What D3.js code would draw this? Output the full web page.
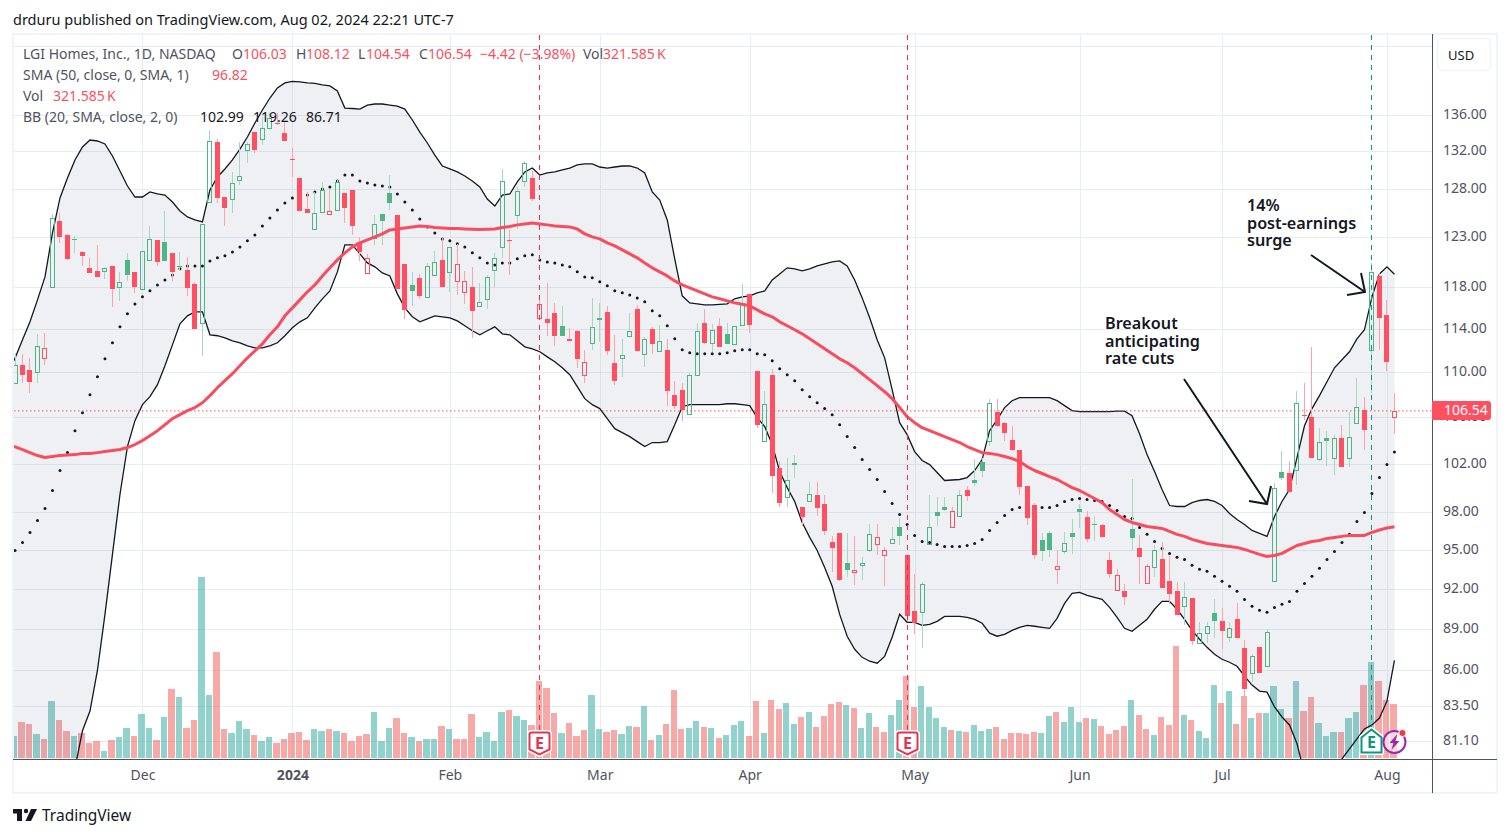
<!DOCTYPE html>
<html>
<head>
<meta charset="utf-8">
<title>LGI Homes, Inc., 1D, NASDAQ</title>
<script src="https://cdn.jsdelivr.net/npm/d3@7/dist/d3.min.js"></script>
<style>
  html, body { margin: 0; padding: 0; background: #fff; }
  svg { display: block; }
  text { font-family: "Noto Sans", sans-serif; }
</style>
</head>
<body>
<div id="chart"></div>
<script>
// daily bars, Nov 2023 - Aug 02 2024, prices
const opens = [
  109.05,110.67,110.22,110.04,111.31,118.03,124.64,123.20,122.75,121.49,119.90,119.60,119.60,120.09,118.03,120.69,119.50,117.84,120.69,122.70,
  122.50,121.39,120.09,119.70,118.32,114.58,126.60,133.03,127.12,126.91,128.92,132.15,134.13,133.36,134.58,135.14,134.02,131.20,129.13,125.87,
  123.81,125.57,125.36,125.77,127.54,127.86,122.50,119.40,122.90,125.36,127.54,125.25,120.29,118.22,118.91,117.06,119.20,120.69,119.50,118.61,
  117.55,118.03,116.19,116.87,119.70,121.99,122.65,125.25,128.81,129.13,115.05,114.95,115.53,114.30,113.07,113.83,109.77,112.70,115.00,115.62,
  110.86,111.31,113.36,115.91,111.68,114.01,111.96,112.05,107.97,108.42,106.30,109.77,114.58,112.70,114.30,113.54,112.61,114.39,117.35,110.13,
  103.96,109.77,101.67,99.27,102.05,98.37,98.94,99.43,98.69,95.57,96.29,94.00,93.24,93.78,94.94,95.41,94.55,95.49,96.76,94.55,
  90.29,90.21,95.41,97.97,98.45,96.76,97.72,99.84,100.67,102.17,103.96,106.47,105.51,104.04,103.19,100.09,98.61,95.73,96.29,93.47,
  94.86,96.29,98.21,97.64,97.05,96.92,94.16,91.86,91.79,96.60,95.10,92.39,93.62,94.24,92.55,91.79,90.66,91.26,87.94,88.67,
  90.14,89.54,88.37,89.69,87.57,85.79,87.64,86.28,92.62,101.33,101.25,101.50,106.20,106.03,102.42,104.21,102.51,104.21,102.51,105.51,
  106.65,112.05,119.10,115.33,106.03];
const highs = [
  111.77,111.68,111.31,113.54,113.64,125.36,125.46,123.25,123.10,121.59,120.89,122.19,120.00,120.09,119.50,121.39,119.50,121.59,124.12,122.70,
  125.67,121.39,121.49,120.99,118.52,124.33,134.35,133.36,127.12,129.78,133.03,133.03,134.13,135.81,136.25,136.25,135.25,132.37,129.13,127.65,
  127.65,128.71,127.86,128.92,127.54,127.86,123.00,121.29,125.25,125.36,129.45,125.25,120.29,119.50,119.30,120.39,121.59,122.90,121.99,122.30,
  119.60,120.00,118.42,119.20,121.39,130.10,123.71,128.18,130.96,129.88,117.06,118.42,116.48,116.19,114.11,113.92,112.05,116.96,116.48,116.19,
  113.45,113.07,115.53,116.29,113.26,114.20,114.39,113.07,109.23,109.05,109.95,114.58,115.91,114.49,115.05,114.58,114.30,118.32,117.35,110.13,
  108.33,110.31,102.26,102.51,102.76,98.37,100.50,100.50,99.43,96.05,96.29,96.29,96.05,94.40,97.00,97.00,95.25,96.76,97.48,94.55,
  93.08,92.47,99.43,99.26,99.26,98.45,99.84,100.09,102.42,102.51,107.62,107.62,105.59,105.24,103.19,100.09,98.77,96.29,96.45,94.94,
  96.37,97.40,98.69,98.05,97.72,97.00,94.79,93.47,92.32,100.75,96.13,93.85,95.33,95.57,94.47,92.47,92.47,91.26,89.47,89.47,
  91.18,90.51,89.47,90.88,88.15,87.13,87.64,88.96,100.34,103.11,102.26,108.33,109.05,112.33,105.07,104.81,104.47,105.33,106.47,109.50,
  107.80,120.39,119.40,116.77,108.12];
const lows = [
  109.05,109.05,108.15,109.05,110.67,118.03,122.40,120.69,121.39,120.09,119.40,119.00,118.81,116.10,116.67,118.61,117.45,117.84,120.69,120.09,
  120.59,118.61,119.70,117.16,114.01,111.50,126.60,126.50,124.12,125.46,128.39,130.75,131.83,132.70,134.58,134.92,133.14,129.24,125.67,125.43,
  123.81,125.57,125.36,125.77,124.43,123.20,120.59,119.40,122.19,122.19,125.77,117.84,114.95,116.19,116.87,117.06,119.20,118.03,117.55,117.25,
  116.38,113.17,116.19,115.91,118.03,120.89,119.20,123.81,128.18,126.71,115.05,113.36,112.42,113.36,112.89,110.40,109.05,112.05,112.80,111.60,
  108.87,109.59,113.36,111.87,110.49,111.68,111.96,106.99,106.74,105.68,106.30,109.77,112.61,111.87,112.33,112.61,112.61,114.39,113.64,105.07,
  103.96,99.59,98.45,98.45,100.83,96.84,98.94,97.72,96.13,93.24,92.55,92.85,92.24,92.62,94.79,94.55,92.17,95.49,95.33,89.54,
  88.60,87.57,95.41,96.84,98.05,96.76,97.72,98.86,100.17,100.91,103.53,105.16,103.96,103.11,99.43,96.92,94.24,94.09,94.40,92.32,
  94.63,94.63,96.68,95.57,95.65,95.97,92.78,91.86,90.74,94.86,92.32,92.39,92.85,92.02,90.81,89.99,89.25,87.79,87.94,87.94,
  88.30,87.50,88.01,88.30,84.18,85.16,85.79,86.28,92.62,100.67,99.67,100.25,105.77,102.51,102.26,101.83,101.08,101.75,101.75,105.51,
  103.19,108.15,112.05,110.13,104.54];
const closes = [
  110.67,109.77,109.14,112.42,112.23,124.94,123.00,120.79,122.60,121.09,119.40,119.00,119.90,117.84,118.52,119.20,118.03,121.59,122.80,120.49,
  120.59,119.50,120.00,117.94,114.01,124.33,133.14,127.02,125.98,128.60,129.35,132.81,132.15,134.58,135.70,135.03,133.14,131.10,125.67,125.43,
  125.48,127.86,125.67,128.71,125.98,124.12,121.49,120.89,124.33,124.64,126.50,117.84,115.81,117.64,117.16,120.09,120.49,118.03,121.99,120.29,
  118.61,115.72,116.58,119.00,120.89,128.81,122.55,127.75,130.75,126.91,116.38,114.58,113.36,113.36,112.89,111.22,110.95,114.20,115.05,111.96,
  109.23,111.59,113.83,111.96,113.07,112.61,112.89,108.33,106.99,106.65,109.77,113.83,112.70,113.92,112.33,112.61,114.30,116.48,114.39,105.33,
  107.17,101.00,98.77,100.67,101.92,97.56,99.51,98.37,96.52,95.10,92.62,93.47,93.43,93.93,96.21,95.97,94.94,95.81,96.05,89.91,
  89.40,92.32,96.76,97.64,98.21,98.05,99.43,99.35,100.42,101.42,107.27,105.24,104.64,103.19,100.09,97.48,94.63,94.86,94.94,93.70,
  95.49,95.97,97.97,95.89,97.00,95.97,93.08,93.04,91.33,95.89,94.40,93.70,94.94,92.02,91.56,89.99,91.33,88.08,88.67,89.18,
  89.54,88.81,89.03,88.30,84.67,86.99,85.79,88.74,100.00,100.83,99.67,107.27,106.12,102.51,103.87,103.91,104.21,101.75,104.30,106.91,
  104.90,119.50,115.05,110.95,106.54];
// thousands of shares
const volumes = [
  130,213,201,142,112,337,225,160,130,148,89,101,41,107,124,178,130,260,178,107,
  243,408,361,178,225,1071,373,627,172,148,219,172,136,101,124,89,112,148,154,107,
  172,160,172,160,148,101,130,142,272,101,178,237,148,124,101,112,112,189,172,112,
  112,260,124,154,101,274,286,251,227,197,458,416,268,150,209,132,168,375,174,156,
  168,144,191,185,310,109,138,203,404,174,180,221,185,180,120,138,197,221,132,339,
  150,345,292,328,203,245,274,185,251,322,333,316,298,180,268,185,156,256,345,487,
  304,428,304,239,185,168,162,156,197,162,174,185,114,150,150,144,156,150,251,274,
  215,304,215,239,233,191,144,168,191,345,256,174,138,245,197,665,256,227,162,120,
  434,328,399,203,369,239,268,268,428,292,239,458,280,363,209,132,156,156,239,274,
  434,570,458,345,321.585];
const sma50 = [
  103.45,103.19,102.93,102.68,102.51,102.60,102.68,102.72,102.76,102.85,102.85,102.93,103.02,103.11,103.19,103.36,103.62,103.96,104.38,104.81,
  105.33,105.86,106.21,106.56,106.83,107.26,107.89,108.60,109.23,109.86,110.58,111.31,111.96,112.61,113.45,114.20,115.24,116.00,116.77,117.55,
  118.22,119.10,119.90,120.69,121.39,121.99,122.40,122.70,123.00,123.31,123.71,123.81,123.92,124.02,124.12,124.07,123.97,123.92,123.87,123.85,
  123.81,123.78,123.76,123.78,123.81,123.97,124.07,124.23,124.33,124.43,124.33,124.23,124.12,124.07,124.02,123.81,123.31,123.00,122.80,122.40,
  122.09,121.69,121.29,120.89,120.39,119.90,119.50,119.10,118.61,118.22,117.94,117.64,117.35,117.06,116.87,116.67,116.48,116.34,116.19,115.81,
  115.43,115.15,114.67,114.30,113.92,113.54,113.07,112.61,112.14,111.68,111.22,110.86,110.40,109.86,109.32,108.78,108.24,107.62,106.83,106.03,
  105.51,105.07,104.81,104.55,104.30,104.04,103.79,103.45,103.19,102.93,102.85,102.76,102.60,102.42,102.17,101.75,101.42,101.17,100.91,100.67,
  100.34,100.00,99.76,99.43,99.10,98.77,98.21,97.81,97.40,97.16,97.00,96.84,96.76,96.68,96.45,96.21,96.05,95.81,95.65,95.49,
  95.41,95.33,95.25,95.18,95.02,94.83,94.63,94.47,94.55,94.71,95.02,95.33,95.49,95.65,95.73,95.89,95.97,96.05,96.13,96.13,
  96.13,96.37,96.56,96.72,96.82];
const bbBasis = [
  94.94,95.57,96.36,97.32,98.29,99.76,101.42,102.93,104.81,106.38,107.97,109.59,111.22,112.70,114.20,115.43,116.38,117.06,117.64,118.22,
  118.71,119.20,119.80,120.09,120.09,120.09,120.59,120.89,121.09,121.49,121.99,122.60,123.20,124.12,124.94,125.77,126.50,127.02,127.23,127.33,
  127.65,127.97,128.18,128.81,129.45,129.45,128.81,128.60,128.39,128.28,128.18,127.44,126.60,125.77,124.84,124.02,123.41,122.80,122.60,122.30,
  121.99,121.39,120.89,120.39,120.19,120.39,120.39,120.79,121.09,121.19,120.69,120.49,120.39,120.19,120.00,119.50,119.00,118.91,118.52,118.13,
  117.64,117.45,117.25,116.96,116.58,115.72,115.24,114.30,113.07,112.05,111.78,111.68,111.68,111.68,111.68,111.78,111.96,112.05,112.05,111.68,
  111.59,111.04,110.31,109.77,109.23,108.42,107.80,107.26,106.74,106.21,105.33,104.30,103.36,102.34,101.50,100.67,99.67,98.69,97.81,97.00,
  96.13,95.65,95.57,95.41,95.25,95.25,95.25,95.33,95.49,95.81,96.52,97.16,97.72,98.21,98.37,98.45,98.45,98.37,98.37,98.53,
  98.86,99.02,99.10,99.02,98.94,98.86,98.53,98.13,97.64,97.48,96.76,96.21,95.65,95.10,94.71,94.40,94.24,93.78,93.47,93.32,
  92.93,92.55,92.17,91.79,91.18,90.66,90.36,90.21,90.58,90.81,91.03,91.79,92.39,92.93,93.55,94.24,94.86,95.57,96.21,97.24,
  97.97,99.51,100.83,101.92,102.99];
const bbUpper = [
  111.04,112.98,114.67,116.77,119.00,123.41,127.02,129.13,131.07,132.48,133.25,133.14,132.81,131.50,129.88,128.28,127.12,127.12,127.65,127.44,
  127.33,126.60,125.67,125.05,124.74,124.53,127.86,129.24,130.10,131.07,132.26,133.58,135.14,136.59,137.95,139.10,139.68,139.85,139.80,139.68,
  139.62,139.45,139.33,138.75,136.81,136.76,136.70,137.15,137.27,137.27,137.15,137.04,136.70,135.47,134.13,132.92,131.60,130.42,130.10,129.78,
  129.35,128.81,128.18,126.91,126.18,127.33,127.44,128.71,129.78,130.20,129.45,129.67,129.78,129.99,130.20,130.53,130.64,130.64,130.31,130.20,
  130.31,130.42,130.42,130.20,129.67,127.65,126.81,124.74,120.79,117.16,116.48,116.38,116.29,116.29,116.34,116.38,116.87,117.06,117.16,117.45,
  117.64,118.71,119.30,119.90,119.80,119.60,119.80,120.09,120.29,120.49,120.59,120.09,118.71,116.96,115.05,112.98,111.31,108.42,105.51,104.47,
  103.02,102.26,101.92,101.25,100.59,100.63,100.67,100.83,101.42,102.34,104.81,105.77,106.83,107.44,107.71,107.71,107.71,107.71,107.71,107.44,
  107.00,106.56,106.47,106.47,106.47,106.47,106.47,106.52,106.52,106.12,104.55,102.76,101.33,99.84,98.53,98.45,98.45,98.77,98.94,99.02,
  98.86,98.53,97.89,97.40,97.00,96.52,96.29,96.05,97.64,98.86,99.84,102.51,105.24,106.74,107.89,109.14,110.40,111.13,111.87,113.07,
  113.92,117.06,119.30,120.00,119.26];
const bbLower = [
  78.10,78.40,78.30,78.20,77.60,76.60,75.80,76.80,79.30,81.81,83.15,86.00,90.06,94.63,99.43,103.45,105.68,107.09,107.80,108.87,
  110.58,112.51,114.49,115.24,115.62,115.62,113.45,113.36,113.17,112.89,112.70,112.42,112.23,112.23,112.42,112.70,113.36,114.11,114.67,115.05,
  116.00,116.87,117.64,119.50,122.19,122.19,121.29,120.39,120.00,119.40,119.10,117.35,116.00,115.15,114.67,114.95,115.24,115.15,115.05,114.76,
  114.30,113.83,113.45,113.83,114.20,113.54,113.45,112.89,112.33,112.14,111.87,111.40,110.95,110.40,109.77,108.69,107.62,107.09,106.74,105.86,
  104.99,104.64,104.30,103.87,103.45,103.79,103.79,103.87,105.33,106.91,107.09,107.09,107.09,107.09,107.09,107.17,107.17,107.09,107.00,105.95,
  105.16,103.62,101.33,100.00,98.86,97.16,95.97,94.94,93.62,92.17,90.06,88.45,87.50,86.92,86.64,86.50,86.99,88.37,90.06,89.47,
  89.47,89.25,89.32,89.54,89.91,89.91,89.91,89.84,89.69,89.40,88.67,88.45,88.59,88.88,89.10,89.25,89.18,89.10,89.03,89.76,
  90.88,91.64,91.71,91.48,91.33,91.18,90.58,89.84,89.03,88.81,89.25,89.69,90.44,91.03,91.03,90.44,89.69,88.88,88.23,87.64,
  87.14,86.78,86.57,86.28,85.58,84.95,84.53,84.46,83.43,82.74,82.20,80.93,78.95,77.34,76.07,75.76,77.00,79.93,80.59,81.26,
  81.93,82.20,82.67,83.83,86.71];

const priceTicks = [144, 136, 132, 128, 123, 118, 114, 110, 106, 102, 98, 95, 92, 89, 86, 83.5, 81.1];
const monthLabels = ["Dec", "2024", "Feb", "Mar", "Apr", "May", "Jun", "Jul", "Aug"];
const monthBars = [17, 37, 58, 78, 98, 120, 142, 161, 183];
const earningsBars = [70, 119, 181];

const lastClose = closes[closes.length - 1];

const width = 1510, height = 837;
const pane = {left: 14, right: 1432, top: 35, bottom: 759};

const colors = {
    up: "#4fb587", down: "#ff4f60", upWick: "#a3d9bf", downWick: "#fba3ab",
    volUp: "rgba(38,166,154,.5)", volDown: "rgba(239,83,80,.5)",
    grid: "#e6edf3", axis: "#50535e", text: "#50535e", dark: "#131722", red: "#f7525f"
};

const x = d3.scaleLinear([0, 184], [15, 1394.45]);
const y = d3.scaleLog([79.92, 145.26], [759, 35.5]);
const yVol = d3.scaleLinear([0, 1100], [758, 572.2]);

// the series carry on off the left edge of the pane
const xEdge = i => i === 0 ? pane.left : x(i);

const svg = d3.select("#chart").append("svg")
    .attr("width", width)
    .attr("height", height);

svg.append("defs").append("clipPath").attr("id", "pane")
    .append("rect")
    .attr("x", pane.left).attr("y", pane.top)
    .attr("width", pane.right - pane.left).attr("height", pane.bottom - pane.top);

// top line
svg.append("text")
    .attr("x", 13).attr("y", 25)
    .attr("font-size", 14.5).attr("fill", colors.dark)
    .text("drduru published on TradingView.com, Aug 02, 2024 22:21 UTC-7");

// frame
svg.append("rect")
    .attr("x", 13).attr("y", 34).attr("width", 1484).attr("height", 759)
    .attr("fill", "none").attr("stroke", "#f0f3fa").attr("stroke-width", 2);

// gridlines
svg.append("g")
    .attr("transform", `translate(${pane.left},0)`)
    .call(d3.axisLeft(y).tickValues(priceTicks).tickFormat("").tickSize(-(pane.right - pane.left)))
    .call(g => g.select(".domain").remove())
    .call(g => g.selectAll("line").attr("stroke", colors.grid).attr("shape-rendering", "crispEdges"));

svg.append("g")
    .attr("transform", `translate(0,${pane.bottom})`)
    .call(d3.axisBottom(x).tickValues(monthBars).tickFormat("").tickSize(-(pane.bottom - pane.top)))
    .call(g => g.select(".domain").remove())
    .call(g => g.selectAll("line").attr("stroke", colors.grid).attr("shape-rendering", "crispEdges"));

const chart = svg.append("g").attr("clip-path", "url(#pane)");

// volume
chart.append("g")
    .attr("shape-rendering", "crispEdges")
    .selectAll("rect")
    .data(volumes)
    .join("rect")
    .attr("x", (d, i) => Math.floor(x(i) - 3.5))
    .attr("width", (d, i) => Math.floor(x(i) + 2.75) - Math.floor(x(i) - 3.5))
    .attr("y", d => yVol(d))
    .attr("height", d => yVol(0) - yVol(d))
    .attr("fill", (d, i) => isUp(i) ? colors.volUp : colors.volDown);

// bollinger bands
chart.append("path")
    .datum(d3.range(185))
    .attr("fill", "rgb(105,115,155)")
    .attr("fill-opacity", 0.11)
    .attr("d", d3.area().x(xEdge).y0(i => y(bbLower[i])).y1(i => y(bbUpper[i])));

for (const band of [bbUpper, bbLower]) {
    chart.append("path")
        .datum(band)
        .attr("fill", "none")
        .attr("stroke", colors.dark)
        .attr("stroke-width", 1.3)
        .attr("d", d3.line().x((d, i) => xEdge(i)).y(d => y(d)));
}

// basis is one dot per bar
chart.append("g")
    .selectAll("circle")
    .data(bbBasis)
    .join("circle")
    .attr("cx", (d, i) => x(i))
    .attr("cy", d => y(d))
    .attr("r", 1.5)
    .attr("fill", colors.dark);

// last price line
chart.append("line")
    .attr("x1", pane.left).attr("x2", pane.right)
    .attr("y1", y(lastClose)).attr("y2", y(lastClose))
    .attr("stroke", colors.red)
    .attr("stroke-dasharray", "1.5 2.5");

// candles, hollow when the close is above the open, colour from the previous close
function isUp(i) {
    return i === 0 || closes[i] >= closes[i - 1];
}
const isHollow = i => closes[i] > opens[i];
const bodyTop = i => Math.round(y(Math.max(opens[i], closes[i])));
const bodyHeight = i => Math.max(1, Math.round(Math.abs(y(opens[i]) - y(closes[i]))));

const candle = chart.append("g")
    .attr("shape-rendering", "crispEdges")
    .selectAll("g")
    .data(d3.range(185))
    .join("g")
    .attr("transform", i => `translate(${Math.floor(x(i))},0)`);

// wicks stop at the body so the hollow candles stay empty
candle.append("rect")
    .attr("width", 1)
    .attr("y", i => y(highs[i]))
    .attr("height", i => Math.max(0, bodyTop(i) - y(highs[i])))
    .attr("fill", i => isUp(i) ? colors.upWick : colors.downWick);

candle.append("rect")
    .attr("width", 1)
    .attr("y", i => bodyTop(i) + bodyHeight(i))
    .attr("height", i => Math.max(0, y(lows[i]) - bodyTop(i) - bodyHeight(i)))
    .attr("fill", i => isUp(i) ? colors.upWick : colors.downWick);

candle.append("rect")
    .attr("x", i => isHollow(i) ? -1.5 : -2)
    .attr("width", i => isHollow(i) ? 4 : 5)
    .attr("y", i => bodyTop(i) + (isHollow(i) ? 0.5 : 0))
    .attr("height", bodyHeight)
    .attr("fill", i => isHollow(i) ? "none" : (isUp(i) ? colors.up : colors.down))
    .attr("stroke", i => isHollow(i) ? (isUp(i) ? colors.up : colors.down) : "none");

// sma 50
chart.append("path")
    .datum(sma50)
    .attr("fill", "none")
    .attr("stroke", "#f84d5e")
    .attr("stroke-width", 3)
    .attr("stroke-linejoin", "round")
    .attr("d", d3.line().x((d, i) => xEdge(i)).y(d => y(d)));

// earnings lines
chart.append("g")
    .selectAll("line")
    .data(earningsBars)
    .join("line")
    .attr("x1", i => Math.floor(x(i)) + 0.5)
    .attr("x2", i => Math.floor(x(i)) + 0.5)
    .attr("y1", pane.top)
    .attr("y2", 731)
    .attr("stroke", i => i === 181 ? "#089981" : "#e8324f")
    .attr("stroke-dasharray", "5 5");

// E badges
const badge = svg.append("g")
    .selectAll("g")
    .data(earningsBars)
    .join("g")
    .attr("transform", i => `translate(${Math.floor(x(i)) + 0.5},${i === 181 ? 741.5 : 742.5})`);

const badgeShape = i => i === 181
    ? "M-10,-4 L0,-12 L10,-4 V11 H-10 Z"
    : "M-10,-8 Q-10,-10 -8,-10 H8 Q10,-10 10,-8 V7 L0,12 L-10,7 Z";

badge.append("path")
    .attr("d", badgeShape)
    .attr("fill", "#fff")
    .attr("stroke", "#fff")
    .attr("stroke-width", 5)
    .attr("stroke-linejoin", "round");

badge.append("path")
    .attr("d", badgeShape)
    .attr("fill", "#fff")
    .attr("stroke", i => i === 181 ? "#089981" : "#e8324f")
    .attr("stroke-width", 2);

badge.append("text")
    .attr("text-anchor", "middle")
    .attr("y", 6)
    .attr("font-size", 16)
    .attr("font-weight", 700)
    .attr("fill", i => i === 181 ? "#089981" : "#e8324f")
    .text("E");

// purple news bubble at the last bar
const news = svg.append("g").attr("transform", `translate(${x(184)},742)`);
news.append("circle").attr("r", 11).attr("fill", "#fff").attr("stroke", "#9c27b0").attr("stroke-width", 2).attr("fill-opacity", 0.55);
news.append("path").attr("d", "M3,-8 L-5,1 H-1 L-3,8 L5,-1 H1 Z").attr("fill", "#9c27b0");
news.append("circle").attr("cx", 8).attr("cy", -9).attr("r", 3.6).attr("fill", "#f23645").attr("stroke", "#fff");

// axis lines
svg.append("line").attr("x1", 13).attr("x2", 1497).attr("y1", 759.5).attr("y2", 759.5).attr("stroke", colors.axis);
svg.append("line").attr("x1", 1432.5).attr("x2", 1432.5).attr("y1", 34).attr("y2", 793).attr("stroke", colors.axis);

// price axis labels
svg.append("g")
    .attr("transform", `translate(${pane.right},0)`)
    .call(d3.axisRight(y).tickValues(priceTicks).tickFormat(d3.format(".2f")).tickSize(0).tickPadding(11))
    .call(g => g.select(".domain").remove())
    .call(g => g.selectAll("text")
        .attr("dy", "0.25em")
        .attr("font-family", "'Noto Sans', sans-serif")
        .attr("font-size", 14)
        .attr("fill", colors.text));

// time axis labels
svg.append("g")
    .attr("transform", `translate(0,${pane.bottom})`)
    .call(d3.axisBottom(x).tickValues(monthBars).tickFormat((d, i) => monthLabels[i]).tickSize(0).tickPadding(11))
    .call(g => g.select(".domain").remove())
    .call(g => g.selectAll("text")
        .attr("font-family", "'Noto Sans', sans-serif")
        .attr("font-size", 14)
        .attr("font-weight", (d, i) => monthLabels[i] === "2024" ? 700 : 400)
        .attr("fill", colors.text));

// currency box
svg.append("rect")
    .attr("x", 1437.5).attr("y", 38.5).attr("width", 53).attr("height", 32).attr("rx", 5)
    .attr("fill", "#fff").attr("stroke", "#f0f3fa").attr("stroke-width", 1.5);
svg.append("text")
    .attr("x", 1448).attr("y", 60)
    .attr("font-size", 13).attr("fill", colors.dark)
    .text("USD");

// last price tag
svg.append("path")
    .attr("d", "M1432,401 H1488 Q1491,401 1491,404 V417 Q1491,420 1488,420 H1432 Z")
    .attr("fill", "#ff4f60");
svg.append("text")
    .attr("x", 1444).attr("y", 415)
    .attr("font-size", 14).attr("fill", "#fff")
    .text(d3.format(".2f")(lastClose));

// legend rows
function legendRow(yPos, parts) {
    const row = svg.append("text").attr("y", yPos).attr("font-size", 14);
    parts.forEach(([xPos, str, fill]) => {
        row.append("tspan").attr("x", xPos).attr("fill", fill).text(str);
    });
}

const grey = colors.text, red = colors.red, dark = colors.dark;
legendRow(59, [
    [23, "LGI Homes, Inc., 1D, NASDAQ", grey], [232, "O", grey], [243, "106.03", red],
    [296, "H", grey], [306, "108.12", red], [358, "L", grey], [366, "104.54", red],
    [419, "C", grey], [428, "106.54", red], [480, "\u22124.42 (\u22123.98%)", red],
    [583, "Vol", grey], [603, "321.585\u2009K", red]
]);
legendRow(80, [[23, "SMA (50, close, 0, SMA, 1)", grey], [212, "96.82", red]]);
legendRow(101, [[23, "Vol", grey], [53, "321.585\u2009K", red]]);
legendRow(122, [[23, "BB (20, SMA, close, 2, 0)", grey], [200, "102.99", dark], [253, "119.26", dark], [306, "86.71", dark]]);

// hand drawn notes
const notes = [
    {x: 1247, lines: [["14%", 211], ["post-earnings", 229], ["surge", 246]]},
    {x: 1105, lines: [["Breakout", 329], ["anticipating", 347], ["rate cuts", 364]]}
];
notes.forEach(n => n.lines.forEach(([str, base]) => {
    svg.append("text")
        .attr("x", n.x).attr("y", base)
        .attr("font-size", 16.2).attr("font-weight", 600)
        .attr("fill", dark)
        .text(str);
}));

const arrows = [
    "M1184,379 L1267,504 M1249,501 L1267,504 L1271,486",
    "M1311,255 L1365,292 M1347,295 L1365,292 L1361,273"
];
svg.append("g")
    .selectAll("path")
    .data(arrows)
    .join("path")
    .attr("d", d => d)
    .attr("fill", "none")
    .attr("stroke", dark)
    .attr("stroke-width", 2);

// logo
const logo = svg.append("g").attr("fill", dark);
logo.append("path").attr("d", "M13,809 H22 V821 H17 V813.5 H13 Z");
logo.append("circle").attr("cx", 26).attr("cy", 811).attr("r", 2.2);
logo.append("path").attr("d", "M31,809 H37 L31,821 H25.5 Z");
svg.append("text")
    .attr("x", 42).attr("y", 821)
    .attr("font-size", 15.5).attr("fill", dark)
    .text("TradingView");
</script>
</body>
</html>
